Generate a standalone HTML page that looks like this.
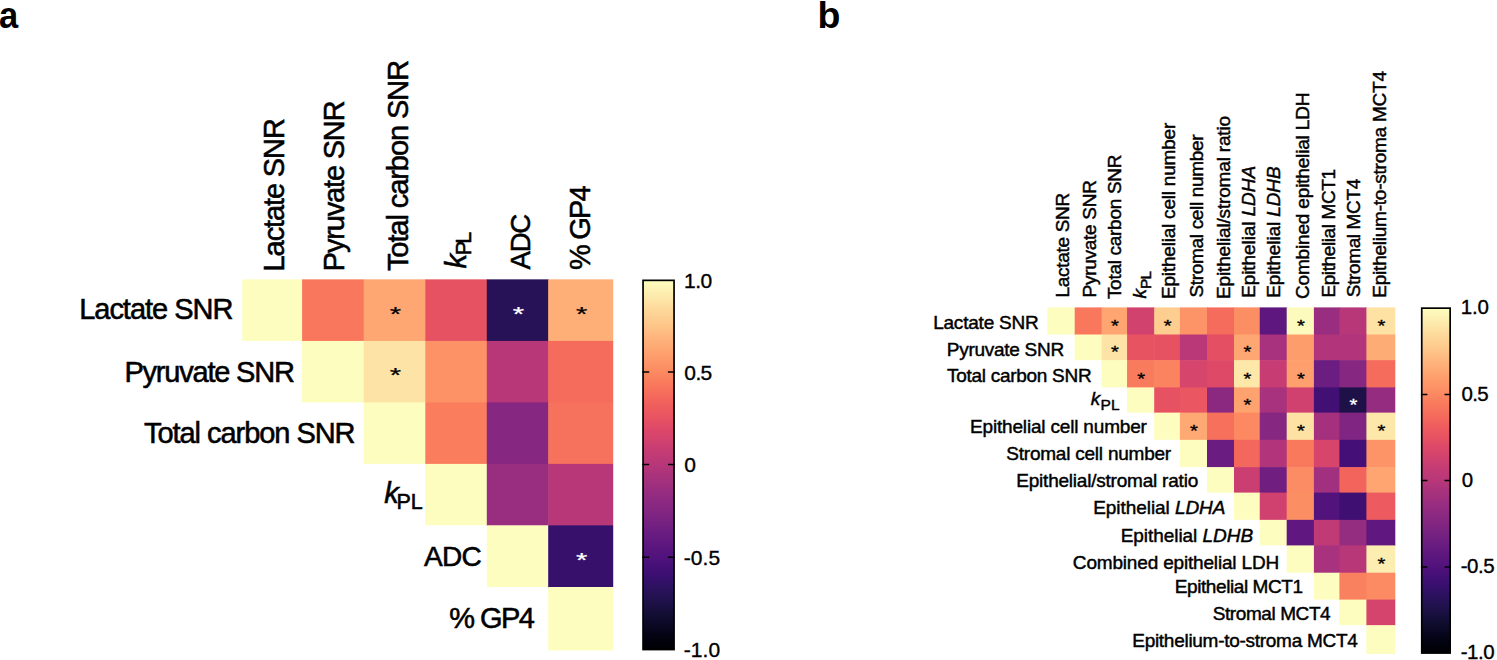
<!DOCTYPE html>
<html lang="en">
<head>
<meta charset="utf-8">
<title>Correlation heatmaps</title>
<style>
html,body{margin:0;padding:0;background:#fff;}
body{width:1497px;height:660px;overflow:hidden;}
svg{display:block;}
svg text{font-family:"Liberation Sans", Arial, Helvetica, sans-serif;fill:#000;}
</style>
</head>
<body>
<svg width="1497" height="660" viewBox="0 0 1497 660">
<rect x="0" y="0" width="1497" height="660" fill="#fff"/>
<g id="panel-a">
<rect x="242.30" y="279.35" width="60.40" height="61.60" fill="#FCFDBF"/>
<rect x="302.10" y="279.35" width="62.20" height="62.20" fill="#F9785D"/>
<rect x="363.70" y="279.35" width="62.20" height="62.20" fill="#FEA772"/>
<rect x="425.30" y="279.35" width="62.10" height="62.20" fill="#E75263"/>
<rect x="486.80" y="279.35" width="62.00" height="62.20" fill="#271258"/>
<rect x="548.20" y="279.35" width="65.00" height="62.20" fill="#FEAE77"/>
<rect x="302.10" y="340.95" width="62.20" height="61.45" fill="#FCFDBF"/>
<rect x="363.70" y="340.95" width="62.20" height="62.05" fill="#FDE3A5"/>
<rect x="425.30" y="340.95" width="62.10" height="62.05" fill="#FD9266"/>
<rect x="486.80" y="340.95" width="62.00" height="62.05" fill="#B83779"/>
<rect x="548.20" y="340.95" width="65.00" height="62.05" fill="#F66C5C"/>
<rect x="363.70" y="402.40" width="62.20" height="61.50" fill="#FCFDBF"/>
<rect x="425.30" y="402.40" width="62.10" height="62.10" fill="#FA7D5E"/>
<rect x="486.80" y="402.40" width="62.00" height="62.10" fill="#862781"/>
<rect x="548.20" y="402.40" width="65.00" height="62.10" fill="#F7725C"/>
<rect x="425.30" y="463.90" width="62.10" height="61.40" fill="#FCFDBF"/>
<rect x="486.80" y="463.90" width="62.00" height="62.00" fill="#992D80"/>
<rect x="548.20" y="463.90" width="65.00" height="62.00" fill="#B73779"/>
<rect x="486.80" y="525.30" width="62.00" height="61.70" fill="#FCFDBF"/>
<rect x="548.20" y="525.30" width="65.00" height="62.30" fill="#36106B"/>
<rect x="548.20" y="587.00" width="65.00" height="63.40" fill="#FCFDBF"/>
<text transform="translate(395.50 310.35) scale(1.08 0.76)" x="0" y="13.91" font-size="27" text-anchor="middle" style="fill:#000" stroke="#000" stroke-width="0.3">*</text>
<text transform="translate(518.50 310.35) scale(1.08 0.76)" x="0" y="13.91" font-size="27" text-anchor="middle" style="fill:#fff" stroke="#fff" stroke-width="0.3">*</text>
<text transform="translate(581.70 310.35) scale(1.08 0.76)" x="0" y="13.91" font-size="27" text-anchor="middle" style="fill:#000" stroke="#000" stroke-width="0.3">*</text>
<text transform="translate(395.50 371.87) scale(1.08 0.76)" x="0" y="13.91" font-size="27" text-anchor="middle" style="fill:#000" stroke="#000" stroke-width="0.3">*</text>
<text transform="translate(581.70 556.35) scale(1.08 0.76)" x="0" y="13.91" font-size="27" text-anchor="middle" style="fill:#fff" stroke="#fff" stroke-width="0.3">*</text>
<defs><linearGradient id="cba" x1="0" y1="0" x2="0" y2="1"><stop offset="0.000" stop-color="#FCFDBF"/><stop offset="0.025" stop-color="#FCF2B4"/><stop offset="0.050" stop-color="#FDE7A9"/><stop offset="0.075" stop-color="#FDDA9C"/><stop offset="0.100" stop-color="#FECF92"/><stop offset="0.125" stop-color="#FEC488"/><stop offset="0.150" stop-color="#FEB77E"/><stop offset="0.175" stop-color="#FEAC76"/><stop offset="0.200" stop-color="#FE9F6D"/><stop offset="0.225" stop-color="#FD9467"/><stop offset="0.250" stop-color="#FC8961"/><stop offset="0.275" stop-color="#F97B5D"/><stop offset="0.300" stop-color="#F7705C"/><stop offset="0.325" stop-color="#F2645C"/><stop offset="0.350" stop-color="#ED5A5F"/><stop offset="0.375" stop-color="#E75263"/><stop offset="0.400" stop-color="#DE4968"/><stop offset="0.425" stop-color="#D5446D"/><stop offset="0.450" stop-color="#CA3E72"/><stop offset="0.475" stop-color="#C03A76"/><stop offset="0.500" stop-color="#B73779"/><stop offset="0.525" stop-color="#AB337C"/><stop offset="0.550" stop-color="#A1307E"/><stop offset="0.575" stop-color="#962C80"/><stop offset="0.600" stop-color="#8C2981"/><stop offset="0.625" stop-color="#832681"/><stop offset="0.650" stop-color="#782281"/><stop offset="0.675" stop-color="#6E1E81"/><stop offset="0.700" stop-color="#641A80"/><stop offset="0.725" stop-color="#5A167E"/><stop offset="0.750" stop-color="#51127C"/><stop offset="0.775" stop-color="#451077"/><stop offset="0.800" stop-color="#3B0F70"/><stop offset="0.825" stop-color="#2F1163"/><stop offset="0.850" stop-color="#251255"/><stop offset="0.875" stop-color="#1D1147"/><stop offset="0.900" stop-color="#140E36"/><stop offset="0.925" stop-color="#0D0A29"/><stop offset="0.950" stop-color="#06051A"/><stop offset="0.975" stop-color="#02020D"/><stop offset="1.000" stop-color="#000004"/></linearGradient></defs>
<rect x="643.05" y="280.35" width="31.00" height="369.20" fill="url(#cba)" stroke="#000" stroke-width="1.70"/>
<path d="M642.20 371.90h7.00M674.90 371.90h-7.00" stroke="#000" stroke-width="1.5" fill="none"/>
<path d="M642.20 464.40h7.00M674.90 464.40h-7.00" stroke="#000" stroke-width="1.5" fill="none"/>
<path d="M642.20 557.30h7.00M674.90 557.30h-7.00" stroke="#000" stroke-width="1.5" fill="none"/>

</g>
<g id="panel-b">
<rect x="1047.40" y="307.40" width="27.90" height="27.10" fill="#FCFDBF"/>
<rect x="1074.70" y="307.40" width="27.50" height="27.70" fill="#F9785D"/>
<rect x="1101.60" y="307.40" width="26.05" height="27.70" fill="#FEA571"/>
<rect x="1127.05" y="307.40" width="27.75" height="27.70" fill="#D2426F"/>
<rect x="1154.20" y="307.40" width="26.30" height="27.70" fill="#FECD90"/>
<rect x="1179.90" y="307.40" width="27.70" height="27.70" fill="#FD9467"/>
<rect x="1207.00" y="307.40" width="27.60" height="27.70" fill="#F66C5C"/>
<rect x="1234.00" y="307.40" width="26.35" height="27.70" fill="#FC8E64"/>
<rect x="1259.75" y="307.40" width="27.55" height="27.70" fill="#5D177F"/>
<rect x="1286.70" y="307.40" width="27.80" height="27.70" fill="#FCFBBD"/>
<rect x="1313.90" y="307.40" width="26.10" height="27.70" fill="#992D80"/>
<rect x="1339.40" y="307.40" width="27.60" height="27.70" fill="#B73779"/>
<rect x="1366.40" y="307.40" width="28.90" height="27.70" fill="#FDE2A3"/>
<rect x="1074.70" y="334.50" width="27.50" height="25.65" fill="#FCFDBF"/>
<rect x="1101.60" y="334.50" width="26.05" height="26.25" fill="#FDE3A5"/>
<rect x="1127.05" y="334.50" width="27.75" height="26.25" fill="#E85362"/>
<rect x="1154.20" y="334.50" width="26.30" height="26.25" fill="#E75263"/>
<rect x="1179.90" y="334.50" width="27.70" height="26.25" fill="#BA3878"/>
<rect x="1207.00" y="334.50" width="27.60" height="26.25" fill="#E44F64"/>
<rect x="1234.00" y="334.50" width="26.35" height="26.25" fill="#FEA772"/>
<rect x="1259.75" y="334.50" width="27.55" height="26.25" fill="#A8327D"/>
<rect x="1286.70" y="334.50" width="27.80" height="26.25" fill="#FE9D6C"/>
<rect x="1313.90" y="334.50" width="26.10" height="26.25" fill="#B2357B"/>
<rect x="1339.40" y="334.50" width="27.60" height="26.25" fill="#B2357B"/>
<rect x="1366.40" y="334.50" width="28.90" height="26.25" fill="#FEAC76"/>
<rect x="1101.60" y="360.15" width="26.05" height="27.25" fill="#FCFDBF"/>
<rect x="1127.05" y="360.15" width="27.75" height="27.85" fill="#F97B5D"/>
<rect x="1154.20" y="360.15" width="26.30" height="27.85" fill="#FB835F"/>
<rect x="1179.90" y="360.15" width="27.70" height="27.85" fill="#D6456C"/>
<rect x="1207.00" y="360.15" width="27.60" height="27.85" fill="#DE4968"/>
<rect x="1234.00" y="360.15" width="26.35" height="27.85" fill="#FDE7A9"/>
<rect x="1259.75" y="360.15" width="27.55" height="27.85" fill="#C73D73"/>
<rect x="1286.70" y="360.15" width="27.80" height="27.85" fill="#FE9F6D"/>
<rect x="1313.90" y="360.15" width="26.10" height="27.85" fill="#6B1D81"/>
<rect x="1339.40" y="360.15" width="27.60" height="27.85" fill="#862781"/>
<rect x="1366.40" y="360.15" width="28.90" height="27.85" fill="#F56B5C"/>
<rect x="1127.05" y="387.40" width="27.75" height="25.20" fill="#FCFDBF"/>
<rect x="1154.20" y="387.40" width="26.30" height="25.80" fill="#E75263"/>
<rect x="1179.90" y="387.40" width="27.70" height="25.80" fill="#EA5661"/>
<rect x="1207.00" y="387.40" width="27.60" height="25.80" fill="#8B2981"/>
<rect x="1234.00" y="387.40" width="26.35" height="25.80" fill="#FEA36F"/>
<rect x="1259.75" y="387.40" width="27.55" height="25.80" fill="#A8327D"/>
<rect x="1286.70" y="387.40" width="27.80" height="25.80" fill="#D0416F"/>
<rect x="1313.90" y="387.40" width="26.10" height="25.80" fill="#420F75"/>
<rect x="1339.40" y="387.40" width="27.60" height="25.80" fill="#1D1147"/>
<rect x="1366.40" y="387.40" width="28.90" height="25.80" fill="#962C80"/>
<rect x="1154.20" y="412.60" width="26.30" height="27.25" fill="#FCFDBF"/>
<rect x="1179.90" y="412.60" width="27.70" height="27.85" fill="#FEA973"/>
<rect x="1207.00" y="412.60" width="27.60" height="27.85" fill="#F7705C"/>
<rect x="1234.00" y="412.60" width="26.35" height="27.85" fill="#FC8961"/>
<rect x="1259.75" y="412.60" width="27.55" height="27.85" fill="#862781"/>
<rect x="1286.70" y="412.60" width="27.80" height="27.85" fill="#FDE2A3"/>
<rect x="1313.90" y="412.60" width="26.10" height="27.85" fill="#A5317E"/>
<rect x="1339.40" y="412.60" width="27.60" height="27.85" fill="#802582"/>
<rect x="1366.40" y="412.60" width="28.90" height="27.85" fill="#FDE7A9"/>
<rect x="1179.90" y="439.85" width="27.70" height="27.25" fill="#FCFDBF"/>
<rect x="1207.00" y="439.85" width="27.60" height="27.85" fill="#6A1C81"/>
<rect x="1234.00" y="439.85" width="26.35" height="27.85" fill="#F4675C"/>
<rect x="1259.75" y="439.85" width="27.55" height="27.85" fill="#B2357B"/>
<rect x="1286.70" y="439.85" width="27.80" height="27.85" fill="#F9795D"/>
<rect x="1313.90" y="439.85" width="26.10" height="27.85" fill="#D8456C"/>
<rect x="1339.40" y="439.85" width="27.60" height="27.85" fill="#440F76"/>
<rect x="1366.40" y="439.85" width="28.90" height="27.85" fill="#FD9467"/>
<rect x="1207.00" y="467.10" width="27.60" height="25.50" fill="#FCFDBF"/>
<rect x="1234.00" y="467.10" width="26.35" height="26.10" fill="#CA3E72"/>
<rect x="1259.75" y="467.10" width="27.55" height="26.10" fill="#701F81"/>
<rect x="1286.70" y="467.10" width="27.80" height="26.10" fill="#FC8C63"/>
<rect x="1313.90" y="467.10" width="26.10" height="26.10" fill="#A1307E"/>
<rect x="1339.40" y="467.10" width="27.60" height="26.10" fill="#F2645C"/>
<rect x="1366.40" y="467.10" width="28.90" height="26.10" fill="#FEA571"/>
<rect x="1234.00" y="492.60" width="26.35" height="27.25" fill="#FCFDBF"/>
<rect x="1259.75" y="492.60" width="27.55" height="27.85" fill="#D0416F"/>
<rect x="1286.70" y="492.60" width="27.80" height="27.85" fill="#FC8E64"/>
<rect x="1313.90" y="492.60" width="26.10" height="27.85" fill="#52137C"/>
<rect x="1339.40" y="492.60" width="27.60" height="27.85" fill="#3F0F72"/>
<rect x="1366.40" y="492.60" width="28.90" height="27.85" fill="#ED5A5F"/>
<rect x="1259.75" y="519.85" width="27.55" height="25.55" fill="#FCFDBF"/>
<rect x="1286.70" y="519.85" width="27.80" height="26.15" fill="#601880"/>
<rect x="1313.90" y="519.85" width="26.10" height="26.15" fill="#C03A76"/>
<rect x="1339.40" y="519.85" width="27.60" height="26.15" fill="#942C80"/>
<rect x="1366.40" y="519.85" width="28.90" height="26.15" fill="#601880"/>
<rect x="1286.70" y="545.40" width="27.80" height="27.30" fill="#FCFDBF"/>
<rect x="1313.90" y="545.40" width="26.10" height="27.90" fill="#A8327D"/>
<rect x="1339.40" y="545.40" width="27.60" height="27.90" fill="#B73779"/>
<rect x="1366.40" y="545.40" width="28.90" height="27.90" fill="#FCEEB0"/>
<rect x="1313.90" y="572.70" width="26.10" height="26.90" fill="#FCFDBF"/>
<rect x="1339.40" y="572.70" width="27.60" height="27.50" fill="#FA815F"/>
<rect x="1366.40" y="572.70" width="28.90" height="27.50" fill="#FC8A62"/>
<rect x="1339.40" y="599.60" width="27.60" height="25.55" fill="#FCFDBF"/>
<rect x="1366.40" y="599.60" width="28.90" height="26.15" fill="#D5446D"/>
<rect x="1366.40" y="625.15" width="28.90" height="28.75" fill="#FCFDBF"/>
<text transform="translate(1114.92 323.15) scale(1.12 0.92)" x="0" y="9.27" font-size="18" text-anchor="middle" style="fill:#000" stroke="#000" stroke-width="0.35">*</text>
<text transform="translate(1167.65 323.15) scale(1.12 0.92)" x="0" y="9.27" font-size="18" text-anchor="middle" style="fill:#000" stroke="#000" stroke-width="0.35">*</text>
<text transform="translate(1300.90 323.15) scale(1.12 0.92)" x="0" y="9.27" font-size="18" text-anchor="middle" style="fill:#000" stroke="#000" stroke-width="0.35">*</text>
<text transform="translate(1381.45 323.15) scale(1.12 0.92)" x="0" y="9.27" font-size="18" text-anchor="middle" style="fill:#000" stroke="#000" stroke-width="0.35">*</text>
<text transform="translate(1114.92 349.52) scale(1.12 0.92)" x="0" y="9.27" font-size="18" text-anchor="middle" style="fill:#000" stroke="#000" stroke-width="0.35">*</text>
<text transform="translate(1247.47 349.52) scale(1.12 0.92)" x="0" y="9.27" font-size="18" text-anchor="middle" style="fill:#000" stroke="#000" stroke-width="0.35">*</text>
<text transform="translate(1141.22 375.97) scale(1.12 0.92)" x="0" y="9.27" font-size="18" text-anchor="middle" style="fill:#000" stroke="#000" stroke-width="0.35">*</text>
<text transform="translate(1247.47 375.97) scale(1.12 0.92)" x="0" y="9.27" font-size="18" text-anchor="middle" style="fill:#000" stroke="#000" stroke-width="0.35">*</text>
<text transform="translate(1300.90 375.97) scale(1.12 0.92)" x="0" y="9.27" font-size="18" text-anchor="middle" style="fill:#000" stroke="#000" stroke-width="0.35">*</text>
<text transform="translate(1247.47 402.20) scale(1.12 0.92)" x="0" y="9.27" font-size="18" text-anchor="middle" style="fill:#000" stroke="#000" stroke-width="0.35">*</text>
<text transform="translate(1353.50 402.20) scale(1.12 0.92)" x="0" y="9.27" font-size="18" text-anchor="middle" style="fill:#fff" stroke="#fff" stroke-width="0.35">*</text>
<text transform="translate(1194.05 428.43) scale(1.12 0.92)" x="0" y="9.27" font-size="18" text-anchor="middle" style="fill:#000" stroke="#000" stroke-width="0.35">*</text>
<text transform="translate(1300.90 428.43) scale(1.12 0.92)" x="0" y="9.27" font-size="18" text-anchor="middle" style="fill:#000" stroke="#000" stroke-width="0.35">*</text>
<text transform="translate(1381.45 428.43) scale(1.12 0.92)" x="0" y="9.27" font-size="18" text-anchor="middle" style="fill:#000" stroke="#000" stroke-width="0.35">*</text>
<text transform="translate(1381.45 561.25) scale(1.12 0.92)" x="0" y="9.27" font-size="18" text-anchor="middle" style="fill:#000" stroke="#000" stroke-width="0.35">*</text>
<defs><linearGradient id="cbb" x1="0" y1="0" x2="0" y2="1"><stop offset="0.000" stop-color="#FCFDBF"/><stop offset="0.025" stop-color="#FCF2B4"/><stop offset="0.050" stop-color="#FDE7A9"/><stop offset="0.075" stop-color="#FDDA9C"/><stop offset="0.100" stop-color="#FECF92"/><stop offset="0.125" stop-color="#FEC488"/><stop offset="0.150" stop-color="#FEB77E"/><stop offset="0.175" stop-color="#FEAC76"/><stop offset="0.200" stop-color="#FE9F6D"/><stop offset="0.225" stop-color="#FD9467"/><stop offset="0.250" stop-color="#FC8961"/><stop offset="0.275" stop-color="#F97B5D"/><stop offset="0.300" stop-color="#F7705C"/><stop offset="0.325" stop-color="#F2645C"/><stop offset="0.350" stop-color="#ED5A5F"/><stop offset="0.375" stop-color="#E75263"/><stop offset="0.400" stop-color="#DE4968"/><stop offset="0.425" stop-color="#D5446D"/><stop offset="0.450" stop-color="#CA3E72"/><stop offset="0.475" stop-color="#C03A76"/><stop offset="0.500" stop-color="#B73779"/><stop offset="0.525" stop-color="#AB337C"/><stop offset="0.550" stop-color="#A1307E"/><stop offset="0.575" stop-color="#962C80"/><stop offset="0.600" stop-color="#8C2981"/><stop offset="0.625" stop-color="#832681"/><stop offset="0.650" stop-color="#782281"/><stop offset="0.675" stop-color="#6E1E81"/><stop offset="0.700" stop-color="#641A80"/><stop offset="0.725" stop-color="#5A167E"/><stop offset="0.750" stop-color="#51127C"/><stop offset="0.775" stop-color="#451077"/><stop offset="0.800" stop-color="#3B0F70"/><stop offset="0.825" stop-color="#2F1163"/><stop offset="0.850" stop-color="#251255"/><stop offset="0.875" stop-color="#1D1147"/><stop offset="0.900" stop-color="#140E36"/><stop offset="0.925" stop-color="#0D0A29"/><stop offset="0.950" stop-color="#06051A"/><stop offset="0.975" stop-color="#02020D"/><stop offset="1.000" stop-color="#000004"/></linearGradient></defs>
<rect x="1421.75" y="308.15" width="28.40" height="344.90" fill="url(#cbb)" stroke="#000" stroke-width="1.70"/>
<path d="M1420.90 394.40h6.50M1451.00 394.40h-6.50" stroke="#000" stroke-width="1.5" fill="none"/>
<path d="M1420.90 480.50h6.50M1451.00 480.50h-6.50" stroke="#000" stroke-width="1.5" fill="none"/>
<path d="M1420.90 566.90h6.50M1451.00 566.90h-6.50" stroke="#000" stroke-width="1.5" fill="none"/>

</g>
<g id="labels">
<text x="79.15" y="318.60" font-size="29" letter-spacing="-1.010" stroke="#000" stroke-width="0.55" xml:space="preserve">Lactate SNR</text>
<text x="124.40" y="381.90" font-size="29" letter-spacing="-1.200" stroke="#000" stroke-width="0.55" xml:space="preserve">Pyruvate SNR</text>
<text x="144.00" y="443.20" font-size="29" letter-spacing="-1.050" stroke="#000" stroke-width="0.55" xml:space="preserve">Total carbon SNR</text>
<text x="384.25" y="503.20" font-size="29" stroke="#000" stroke-width="0.55" xml:space="preserve"><tspan font-style="italic">k</tspan></text>
<text x="396.60" y="508.50" font-size="21.5" letter-spacing="-0.150" stroke="#000" stroke-width="0.55" xml:space="preserve">PL</text>
<text x="423.95" y="566.30" font-size="28" letter-spacing="-0.725" stroke="#000" stroke-width="0.55" xml:space="preserve">ADC</text>
<text x="449.35" y="628.20" font-size="29" letter-spacing="-1.612" stroke="#000" stroke-width="0.55" xml:space="preserve">% GP4</text>
<text transform="translate(283.50 271.40) rotate(-90)" font-size="29" letter-spacing="-1.115" stroke="#000" stroke-width="0.55" xml:space="preserve">Lactate SNR</text>
<text transform="translate(344.10 271.15) rotate(-90)" font-size="29" letter-spacing="-1.182" stroke="#000" stroke-width="0.55" xml:space="preserve">Pyruvate SNR</text>
<text transform="translate(408.20 271.10) rotate(-90)" font-size="29" letter-spacing="-1.073" stroke="#000" stroke-width="0.55" xml:space="preserve">Total carbon SNR</text>
<text transform="translate(466.00 268.40) rotate(-90)" font-size="29" stroke="#000" stroke-width="0.55" xml:space="preserve"><tspan font-style="italic">k</tspan></text>
<text transform="translate(471.30 255.35) rotate(-90)" font-size="21.5" letter-spacing="-2.700" stroke="#000" stroke-width="0.55" xml:space="preserve">PL</text>
<text transform="translate(529.60 269.40) rotate(-90)" font-size="27.5" letter-spacing="-1.225" stroke="#000" stroke-width="0.55" xml:space="preserve">ADC</text>
<text transform="translate(589.60 269.90) rotate(-90)" font-size="29" letter-spacing="-1.862" stroke="#000" stroke-width="0.55" xml:space="preserve">% GP4</text>
<text x="933.15" y="329.20" font-size="19" letter-spacing="-0.210" stroke="#000" stroke-width="0.45" xml:space="preserve">Lactate SNR</text>
<text x="946.75" y="356.10" font-size="19" letter-spacing="-0.268" stroke="#000" stroke-width="0.45" xml:space="preserve">Pyruvate SNR</text>
<text x="947.05" y="381.80" font-size="19" letter-spacing="-0.287" stroke="#000" stroke-width="0.45" xml:space="preserve">Total carbon SNR</text>
<text x="1090.70" y="404.90" font-size="19" stroke="#000" stroke-width="0.45" xml:space="preserve"><tspan font-style="italic">k</tspan></text>
<text x="1100.40" y="409.80" font-size="15.5" letter-spacing="0.200" stroke="#000" stroke-width="0.45" xml:space="preserve">PL</text>
<text x="970.05" y="432.90" font-size="19" letter-spacing="-0.179" stroke="#000" stroke-width="0.45" xml:space="preserve">Epithelial cell number</text>
<text x="1006.30" y="460.30" font-size="19" letter-spacing="-0.225" stroke="#000" stroke-width="0.45" xml:space="preserve">Stromal cell number</text>
<text x="1016.25" y="487.00" font-size="19" letter-spacing="-0.215" stroke="#000" stroke-width="0.45" xml:space="preserve">Epithelial/stromal ratio</text>
<text x="1093.25" y="514.40" font-size="19" letter-spacing="-0.064" stroke="#000" stroke-width="0.45" xml:space="preserve">Epithelial <tspan font-style="italic">LDHA</tspan></text>
<text x="1120.65" y="541.80" font-size="19" letter-spacing="-0.046" stroke="#000" stroke-width="0.45" xml:space="preserve">Epithelial <tspan font-style="italic">LDHB</tspan></text>
<text x="1072.85" y="568.80" font-size="19" letter-spacing="-0.175" stroke="#000" stroke-width="0.45" xml:space="preserve">Combined epithelial LDH</text>
<text x="1174.75" y="592.80" font-size="19" letter-spacing="-0.414" stroke="#000" stroke-width="0.45" xml:space="preserve">Epithelial MCT1</text>
<text x="1212.75" y="620.20" font-size="19" letter-spacing="-0.414" stroke="#000" stroke-width="0.45" xml:space="preserve">Stromal MCT4</text>
<text x="1132.25" y="647.30" font-size="19" letter-spacing="-0.279" stroke="#000" stroke-width="0.45" xml:space="preserve">Epithelium-to-stroma MCT4</text>
<text transform="translate(1069.30 297.60) rotate(-90)" font-size="19" letter-spacing="-0.285" stroke="#000" stroke-width="0.45" xml:space="preserve">Lactate SNR</text>
<text transform="translate(1095.60 297.50) rotate(-90)" font-size="19" letter-spacing="-0.268" stroke="#000" stroke-width="0.45" xml:space="preserve">Pyruvate SNR</text>
<text transform="translate(1121.40 299.10) rotate(-90)" font-size="19" letter-spacing="-0.287" stroke="#000" stroke-width="0.45" xml:space="preserve">Total carbon SNR</text>
<text transform="translate(1146.20 298.60) rotate(-90)" font-size="19" stroke="#000" stroke-width="0.45" xml:space="preserve"><tspan font-style="italic">k</tspan></text>
<text transform="translate(1151.10 288.90) rotate(-90)" font-size="15.5" letter-spacing="-0.900" stroke="#000" stroke-width="0.45" xml:space="preserve">PL</text>
<text transform="translate(1174.60 298.95) rotate(-90)" font-size="19" letter-spacing="-0.210" stroke="#000" stroke-width="0.45" xml:space="preserve">Epithelial cell number</text>
<text transform="translate(1203.00 297.50) rotate(-90)" font-size="19" letter-spacing="-0.322" stroke="#000" stroke-width="0.45" xml:space="preserve">Stromal cell number</text>
<text transform="translate(1229.90 298.90) rotate(-90)" font-size="19" letter-spacing="-0.172" stroke="#000" stroke-width="0.45" xml:space="preserve">Epithelial/stromal ratio</text>
<text transform="translate(1254.60 297.85) rotate(-90)" font-size="19" letter-spacing="-0.082" stroke="#000" stroke-width="0.45" xml:space="preserve">Epithelial <tspan font-style="italic">LDHA</tspan></text>
<text transform="translate(1280.30 297.85) rotate(-90)" font-size="19" letter-spacing="-0.118" stroke="#000" stroke-width="0.45" xml:space="preserve">Epithelial <tspan font-style="italic">LDHB</tspan></text>
<text transform="translate(1308.60 299.05) rotate(-90)" font-size="19" letter-spacing="-0.166" stroke="#000" stroke-width="0.45" xml:space="preserve">Combined epithelial LDH</text>
<text transform="translate(1334.70 297.60) rotate(-90)" font-size="19" letter-spacing="-0.389" stroke="#000" stroke-width="0.45" xml:space="preserve">Epithelial MCT1</text>
<text transform="translate(1360.00 297.15) rotate(-90)" font-size="19" letter-spacing="-0.373" stroke="#000" stroke-width="0.45" xml:space="preserve">Stromal MCT4</text>
<text transform="translate(1385.90 297.65) rotate(-90)" font-size="19" letter-spacing="-0.235" stroke="#000" stroke-width="0.45" xml:space="preserve">Epithelium-to-stroma MCT4</text>
<text x="684.00" y="287.60" font-size="21" letter-spacing="-0.475" stroke="#000" stroke-width="0.35" xml:space="preserve">1.0</text>
<text x="684.35" y="379.80" font-size="21" letter-spacing="-0.625" stroke="#000" stroke-width="0.35" xml:space="preserve">0.5</text>
<text x="684.25" y="472.30" font-size="21" stroke="#000" stroke-width="0.35" xml:space="preserve">0</text>
<text x="683.75" y="564.70" font-size="21" letter-spacing="0.083" stroke="#000" stroke-width="0.35" xml:space="preserve">-0.5</text>
<text x="683.75" y="656.50" font-size="21" letter-spacing="0.083" stroke="#000" stroke-width="0.35" xml:space="preserve">-1.0</text>
<text x="1460.70" y="313.90" font-size="20.5" letter-spacing="-0.125" stroke="#000" stroke-width="0.35" xml:space="preserve">1.0</text>
<text x="1461.55" y="400.90" font-size="20.5" letter-spacing="-0.700" stroke="#000" stroke-width="0.35" xml:space="preserve">0.5</text>
<text x="1461.65" y="486.60" font-size="20.5" stroke="#000" stroke-width="0.35" xml:space="preserve">0</text>
<text x="1460.75" y="572.70" font-size="20.5" letter-spacing="-0.500" stroke="#000" stroke-width="0.35" xml:space="preserve">-0.5</text>
<text x="1460.75" y="659.30" font-size="20.5" letter-spacing="-0.500" stroke="#000" stroke-width="0.35" xml:space="preserve">-1.0</text>
<text transform="translate(-1.10 27.70) scale(0.92 1)" font-size="37.5" font-weight="bold" xml:space="preserve">a</text>
<text x="817.50" y="27.80" font-size="37.5" font-weight="bold" xml:space="preserve">b</text>
</g>
</svg>
</body>
</html>
